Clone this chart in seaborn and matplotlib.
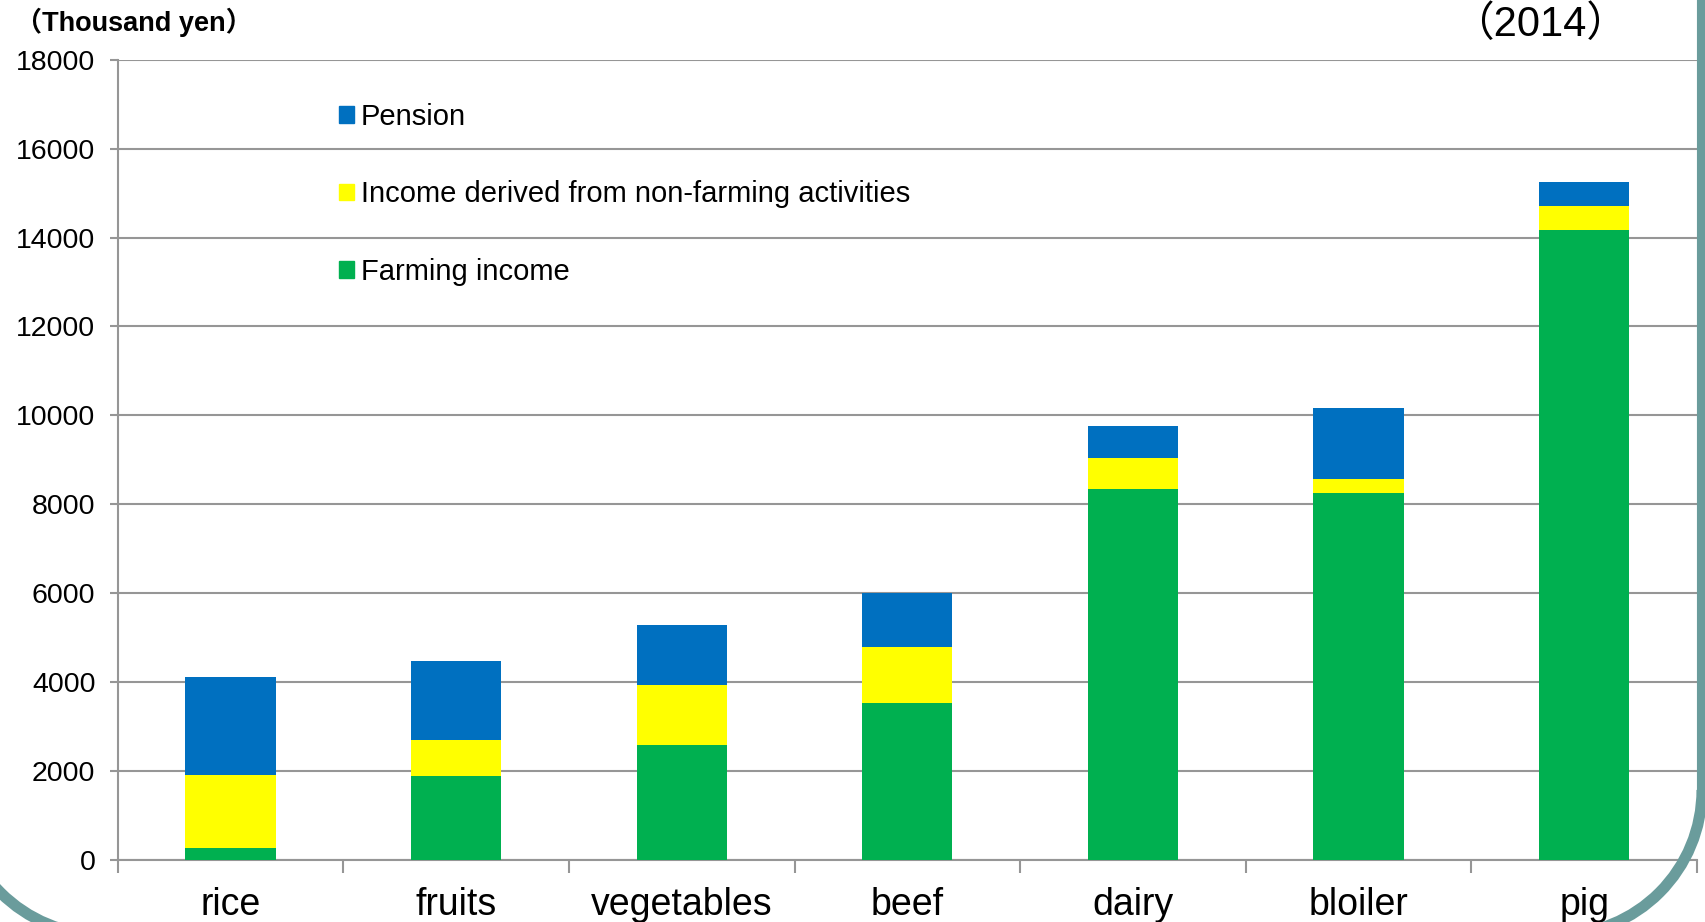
import numpy as np
import pandas as pd
import matplotlib
matplotlib.use("Agg")
import matplotlib.pyplot as plt
import seaborn as sns
from matplotlib.patches import Patch, Arc
from matplotlib.lines import Line2D
from matplotlib.transforms import IdentityTransform

# ข้อมูล (พันเยน)
categories = ["rice", "fruits", "vegetables", "beef", "dairy", "bloiler", "pig"]
farming = [270, 1890, 2570, 3530, 8330, 8250, 14160]
non_farming = [1640, 800, 1370, 1250, 710, 320, 540]
pension = [2200, 1790, 1350, 1220, 710, 1590, 560]
y_ticks = [0, 2000, 4000, 6000, 8000, 10000, 12000, 14000, 16000, 18000]

col_pension = "#0070C0"
col_nonfarm = "#FFFF00"
col_farm = "#00B050"
grid_col = "#969696"
frame_col = "#6A9C9C"

df = pd.DataFrame({
    "category": categories,
    "farming": farming,
    "non_farming": non_farming,
    "pension": pension,
})
df["layer2"] = df["farming"] + df["non_farming"]
df["total"] = df["layer2"] + df["pension"]

sns.set_style("white")
plt.rcParams["font.family"] = ["Liberation Sans", "Noto Sans CJK JP", "DejaVu Sans"]
plt.rcParams["text.color"] = "black"
plt.rcParams["xtick.labelcolor"] = "black"
plt.rcParams["ytick.labelcolor"] = "black"

fig = plt.figure(figsize=(17.06, 9.22), dpi=100)
ax = fig.add_axes([0.069, 0.0677, 0.9257, 0.8674])

# วาด stacked bar ทีละชั้น (ชั้นบนสุดก่อน)
for col, color in [("total", col_pension), ("layer2", col_nonfarm), ("farming", col_farm)]:
    sns.barplot(data=df, x="category", y=col, color=color, saturation=1,
                width=0.4, errorbar=None, linewidth=0, ax=ax, zorder=3)

ax.set_xlim(-0.5, len(categories) - 0.5)
ax.set_ylim(0, 18000)
ax.set_yticks(y_ticks)
ax.set_xlabel("")
ax.set_ylabel("")

ax.yaxis.grid(True, color=grid_col, linewidth=1.5, zorder=0)
ax.set_axisbelow(True)
for s in ["top", "right"]:
    ax.spines[s].set_visible(False)
for s in ["left", "bottom"]:
    ax.spines[s].set_color(grid_col)
    ax.spines[s].set_linewidth(1.5)

ax.tick_params(axis="y", direction="out", length=6, width=1.5, color=grid_col,
               labelsize=20.5, pad=10, left=True, labelcolor="black")
ax.tick_params(axis="x", which="major", length=0, labelsize=27, pad=20, labelcolor="black")
ax.set_xticks(np.arange(-0.5, len(categories), 1.0), minor=True)
ax.tick_params(axis="x", which="minor", direction="out", length=9, width=1.5,
               color=grid_col, bottom=True)

handles = [Patch(color=col_pension, label="Pension"),
           Patch(color=col_nonfarm, label="Income derived from non-farming activities"),
           Patch(color=col_farm, label="Farming income")]
fig.legend(handles=handles, loc="upper left", bbox_to_anchor=(339 / 1706, 1 - 103 / 922),
           frameon=False, fontsize=21, handlelength=0.5, handleheight=0.5,
           handletextpad=0.25, labelspacing=1.69, borderpad=0, borderaxespad=0,
           labelcolor="black")

fig.text(15 / 1706, 1 - 22 / 922, "（Thousand yen）", fontsize=19.5, fontweight="bold",
         ha="left", va="center", color="black")
fig.text(1540 / 1706, 1 - 25 / 922, "（2014）", fontsize=30, ha="center", va="center",
         color="black")

# กรอบสไลด์มุมโค้ง (พิกัดพิกเซล)
r = 145
yc = 922 - 790
tr = IdentityTransform()
for cx, t1, t2 in [(-42 + r, 180, 270), (1702 - r, 270, 360)]:
    fig.patches.append(Arc((cx, yc), 2 * r, 2 * r, theta1=t1, theta2=t2, transform=tr,
                           color=frame_col, linewidth=8, clip_on=False, zorder=10))
fig.lines.append(Line2D([1702, 1702], [yc, 930], transform=tr, color=frame_col,
                        linewidth=8, clip_on=False, zorder=10))

fig.savefig("out.png", dpi=100)
